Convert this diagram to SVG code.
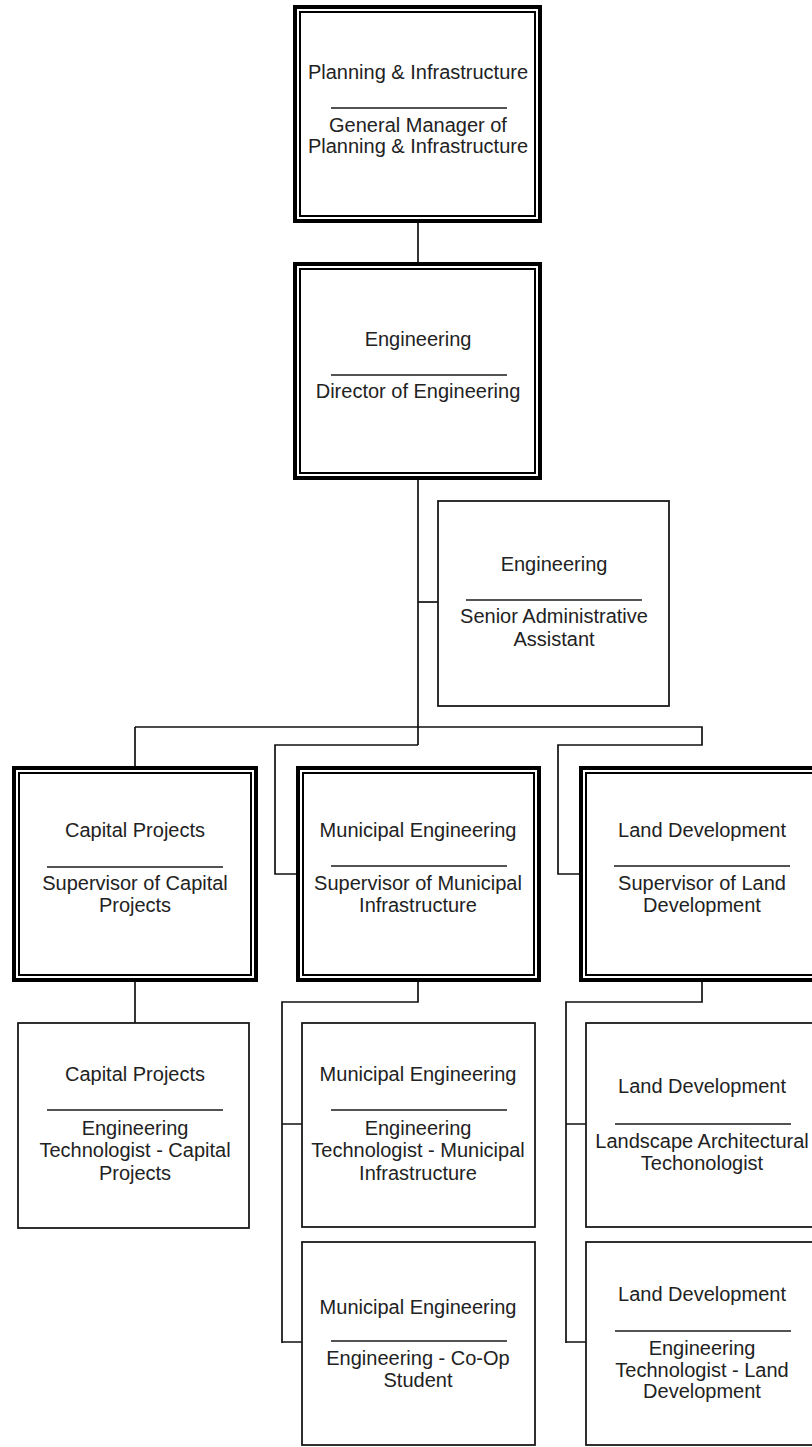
<svg xmlns="http://www.w3.org/2000/svg" width="812" height="1447" viewBox="0 0 812 1447">
  <defs>
    <style>
      .bg { fill: #ffffff; }
      .outer { fill: #ffffff; stroke: #000000; stroke-width: 4; }
      .inner { fill: none; stroke: #000000; stroke-width: 2; }
      .box { fill: #ffffff; stroke: #1a1a1a; stroke-width: 1.8; }
      .sep { stroke: #1a1a1a; stroke-width: 1.5; }
      .conn { fill: none; stroke: #111111; stroke-width: 1.7; }
      text { font-family: "Liberation Sans", Arial, sans-serif; font-size: 20px; fill: #222222; text-anchor: middle; }
    </style>
  </defs>
  <rect class="bg" x="0" y="0" width="812" height="1447"/>

  <g id="connectors">
    <path class="conn" d="M418 223 V262"/>
    <path class="conn" d="M418 480 V745"/>
    <path class="conn" d="M418 602 H438"/>
    <path class="conn" d="M135 727 H702 V745 H558 V874 H579"/>
    <path class="conn" d="M135 727 V766"/>
    <path class="conn" d="M418 745 H275 V874 H296"/>
    <path class="conn" d="M135 982 V1023"/>
    <path class="conn" d="M418 982 V1002 H282 V1343"/>
    <path class="conn" d="M282 1124 H302 M282 1342 H302"/>
    <path class="conn" d="M702 982 V1002 H566 V1343"/>
    <path class="conn" d="M566 1124 H586 M566 1342 H586"/>
  </g>

  <g id="planning-infrastructure">
    <rect class="outer" x="295" y="7" width="245" height="214"/>
    <rect class="inner" x="300" y="12" width="235" height="204"/>
    <text x="418" y="79">Planning &amp; Infrastructure</text>
    <line class="sep" x1="331" y1="108" x2="507" y2="108"/>
    <text x="418" y="132">General Manager of</text>
    <text x="418" y="153">Planning &amp; Infrastructure</text>
  </g>

  <g id="engineering">
    <rect class="outer" x="295" y="264" width="245" height="214"/>
    <rect class="inner" x="300" y="269" width="235" height="204"/>
    <text x="418" y="346">Engineering</text>
    <line class="sep" x1="331" y1="375" x2="507" y2="375"/>
    <text x="418" y="398">Director of Engineering</text>
  </g>

  <g id="senior-admin">
    <rect class="box" x="438" y="501" width="231" height="205"/>
    <text x="554" y="571">Engineering</text>
    <line class="sep" x1="466" y1="600" x2="642" y2="600"/>
    <text x="554" y="623">Senior Administrative</text>
    <text x="554" y="646">Assistant</text>
  </g>

  <g id="capital-projects">
    <rect class="outer" x="14" y="768" width="242" height="212"/>
    <rect class="inner" x="19" y="773" width="232" height="202"/>
    <text x="135" y="837">Capital Projects</text>
    <line class="sep" x1="47" y1="867" x2="223" y2="867"/>
    <text x="135" y="890">Supervisor of Capital</text>
    <text x="135" y="912">Projects</text>
  </g>

  <g id="municipal-engineering">
    <rect class="outer" x="298" y="768" width="241" height="212"/>
    <rect class="inner" x="303" y="773" width="231" height="202"/>
    <text x="418" y="837">Municipal Engineering</text>
    <line class="sep" x1="331" y1="866" x2="507" y2="866"/>
    <text x="418" y="890">Supervisor of Municipal</text>
    <text x="418" y="912">Infrastructure</text>
  </g>

  <g id="land-development">
    <rect class="outer" x="581" y="768" width="242" height="212"/>
    <rect class="inner" x="586" y="773" width="232" height="202"/>
    <text x="702" y="837">Land Development</text>
    <line class="sep" x1="614" y1="866" x2="790" y2="866"/>
    <text x="702" y="890">Supervisor of Land</text>
    <text x="702" y="912">Development</text>
  </g>

  <g id="capital-technologist">
    <rect class="box" x="18" y="1023" width="231" height="205"/>
    <text x="135" y="1081">Capital Projects</text>
    <line class="sep" x1="47" y1="1110" x2="223" y2="1110"/>
    <text x="135" y="1135">Engineering</text>
    <text x="135" y="1157">Technologist - Capital</text>
    <text x="135" y="1180">Projects</text>
  </g>

  <g id="municipal-technologist">
    <rect class="box" x="302" y="1023" width="233" height="204"/>
    <text x="418" y="1081">Municipal Engineering</text>
    <line class="sep" x1="331" y1="1110" x2="507" y2="1110"/>
    <text x="418" y="1135">Engineering</text>
    <text x="418" y="1157">Technologist - Municipal</text>
    <text x="418" y="1180">Infrastructure</text>
  </g>

  <g id="municipal-coop">
    <rect class="box" x="302" y="1242" width="233" height="203"/>
    <text x="418" y="1314">Municipal Engineering</text>
    <line class="sep" x1="331" y1="1341" x2="507" y2="1341"/>
    <text x="418" y="1365">Engineering - Co-Op</text>
    <text x="418" y="1387">Student</text>
  </g>

  <g id="landscape-technologist">
    <rect class="box" x="586" y="1023" width="233" height="204"/>
    <text x="702" y="1093">Land Development</text>
    <line class="sep" x1="615" y1="1124" x2="791" y2="1124"/>
    <text x="702" y="1148">Landscape Architectural</text>
    <text x="702" y="1170">Techonologist</text>
  </g>

  <g id="land-technologist">
    <rect class="box" x="586" y="1242" width="233" height="203"/>
    <text x="702" y="1301">Land Development</text>
    <line class="sep" x1="615" y1="1331" x2="791" y2="1331"/>
    <text x="702" y="1355">Engineering</text>
    <text x="702" y="1377">Technologist - Land</text>
    <text x="702" y="1398">Development</text>
  </g>
</svg>
